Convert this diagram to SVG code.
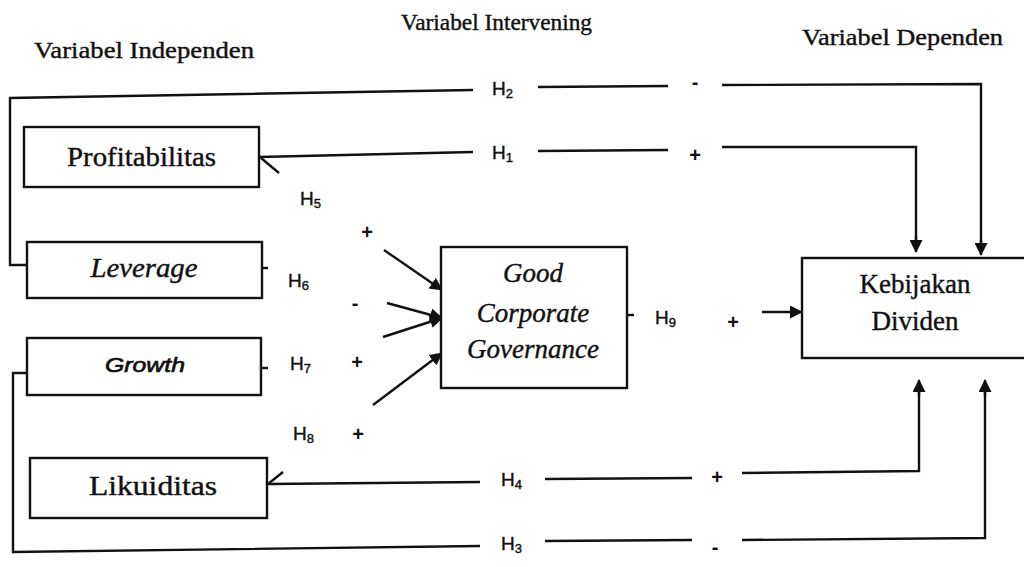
<svg xmlns="http://www.w3.org/2000/svg" width="1024" height="567" viewBox="0 0 1024 567">
<defs>
<marker id="ah" viewBox="0 0 13 13" refX="12" refY="6.5" markerWidth="13" markerHeight="13" markerUnits="userSpaceOnUse" orient="auto">
<path d="M0,0 L13,6.5 L0,13 z" fill="#111"/>
</marker>
</defs>
<style>
.box{fill:#fff;stroke:#111;stroke-width:2.4}
.ln{fill:none;stroke:#111;stroke-width:2.4}
.title{font-family:"Liberation Serif",serif;font-size:23px;fill:#111;stroke:#111;stroke-width:0.4}
.lbl{font-family:"Liberation Serif",serif;font-size:27px;fill:#111;text-anchor:middle;stroke:#111;stroke-width:0.4}
.it{font-style:italic}
.h{font-family:"Liberation Sans",Arial,sans-serif;font-size:19px;fill:#111;stroke:#111;stroke-width:0.4}
.sub{font-size:13px}
.sg{font-family:"Liberation Sans",Arial,sans-serif;font-size:20px;font-weight:bold;fill:#111;text-anchor:middle}
</style>
<rect width="1024" height="567" fill="#fff"/>

<g id="titles">
<text class="title" x="34" y="58" textLength="220" lengthAdjust="spacingAndGlyphs">Variabel Independen</text>
<text class="title" x="401" y="30" textLength="191" lengthAdjust="spacingAndGlyphs">Variabel Intervening</text>
<text class="title" x="802" y="45" textLength="201" lengthAdjust="spacingAndGlyphs">Variabel Dependen</text>
</g>

<g id="connectors">
<!-- H2 -->
<polyline class="ln" points="28,265 10,265 10,98 473,90"/>
<line class="ln" x1="538" y1="87" x2="668" y2="86"/>
<polyline class="ln" points="722,85 981,84 981,244"/>
<line class="ln" x1="981" y1="240" x2="981" y2="255" marker-end="url(#ah)"/>
<!-- H1 -->
<line class="ln" x1="259" y1="157" x2="473" y2="152"/>
<line class="ln" x1="261" y1="158" x2="279" y2="173"/>
<line class="ln" x1="538" y1="151" x2="668" y2="150"/>
<polyline class="ln" points="722,147 916,147 916,240"/>
<line class="ln" x1="916" y1="236" x2="916" y2="252" marker-end="url(#ah)"/>
<!-- H3 -->
<polyline class="ln" points="28,373 13,373 13,552 480,546"/>
<line class="ln" x1="545" y1="541" x2="692" y2="540"/>
<polyline class="ln" points="742,540 985,538 985,392"/>
<line class="ln" x1="985" y1="396" x2="985" y2="380" marker-end="url(#ah)"/>
<!-- H4 -->
<line class="ln" x1="268" y1="484" x2="480" y2="482"/>
<line class="ln" x1="268" y1="484" x2="283" y2="472"/>
<line class="ln" x1="545" y1="479" x2="692" y2="478"/>
<polyline class="ln" points="742,473 919,471 919,392"/>
<line class="ln" x1="919" y1="396" x2="919" y2="380" marker-end="url(#ah)"/>
<!-- stubs -->
<line class="ln" x1="262" y1="268" x2="268" y2="268"/>
<line class="ln" x1="261" y1="368" x2="268" y2="368"/>
<line class="ln" x1="627" y1="315" x2="634" y2="315"/>
<!-- to GCG -->
<line class="ln" x1="384" y1="250" x2="442" y2="290" marker-end="url(#ah)"/>
<line class="ln" x1="387" y1="303" x2="442" y2="318" marker-end="url(#ah)"/>
<line class="ln" x1="383" y1="337" x2="442" y2="318" marker-end="url(#ah)"/>
<line class="ln" x1="373" y1="405" x2="442" y2="353" marker-end="url(#ah)"/>
<!-- H9 -->
<line class="ln" x1="762" y1="312" x2="802" y2="312" marker-end="url(#ah)"/>
</g>

<g id="profitabilitas">
<rect class="box" x="24" y="127" width="235" height="60"/>
<text class="lbl" x="141.5" y="166" textLength="149" lengthAdjust="spacingAndGlyphs">Profitabilitas</text>
</g>
<g id="leverage">
<rect class="box" x="27" y="242" width="235" height="56"/>
<text class="lbl it" x="144" y="277" textLength="107" lengthAdjust="spacingAndGlyphs">Leverage</text>
</g>
<g id="growth">
<rect class="box" x="27" y="338" width="234" height="57"/>
<text x="145" y="372" text-anchor="middle" font-family="Liberation Sans, Arial, sans-serif" font-size="21" font-style="italic" fill="#111" stroke="#111" stroke-width="0.7" textLength="80" lengthAdjust="spacingAndGlyphs">Growth</text>
</g>
<g id="likuiditas">
<rect class="box" x="30" y="458" width="237" height="60"/>
<text class="lbl" x="153" y="495" textLength="128" lengthAdjust="spacingAndGlyphs">Likuiditas</text>
</g>
<g id="gcg">
<rect class="box" x="441" y="247" width="186" height="141"/>
<text class="lbl it" x="533" y="282">Good</text>
<text class="lbl it" x="533" y="322">Corporate</text>
<text class="lbl it" x="533" y="358">Governance</text>
</g>
<g id="kebijakan">
<rect class="box" x="802" y="258" width="230" height="100"/>
<text class="lbl" x="915" y="293">Kebijakan</text>
<text class="lbl" x="915" y="330">Dividen</text>
</g>

<g id="labels">
<text class="h" x="492" y="95">H<tspan class="sub" dy="3">2</tspan></text>
<text class="h" x="492" y="159">H<tspan class="sub" dy="3">1</tspan></text>
<text class="h" x="300" y="205">H<tspan class="sub" dy="3">5</tspan></text>
<text class="h" x="288" y="287">H<tspan class="sub" dy="3">6</tspan></text>
<text class="h" x="290" y="370">H<tspan class="sub" dy="3">7</tspan></text>
<text class="h" x="293" y="440">H<tspan class="sub" dy="3">8</tspan></text>
<text class="h" x="655" y="324">H<tspan class="sub" dy="3">9</tspan></text>
<text class="h" x="501" y="486">H<tspan class="sub" dy="3">4</tspan></text>
<text class="h" x="501" y="550">H<tspan class="sub" dy="3">3</tspan></text>
<text class="sg" x="695" y="89">-</text>
<text class="sg" x="695" y="162">+</text>
<text class="sg" x="367" y="239">+</text>
<text class="sg" x="355" y="310">-</text>
<text class="sg" x="357" y="369">+</text>
<text class="sg" x="358" y="441">+</text>
<text class="sg" x="733" y="329">+</text>
<text class="sg" x="717" y="484">+</text>
<text class="sg" x="715" y="554">-</text>
</g>
</svg>
